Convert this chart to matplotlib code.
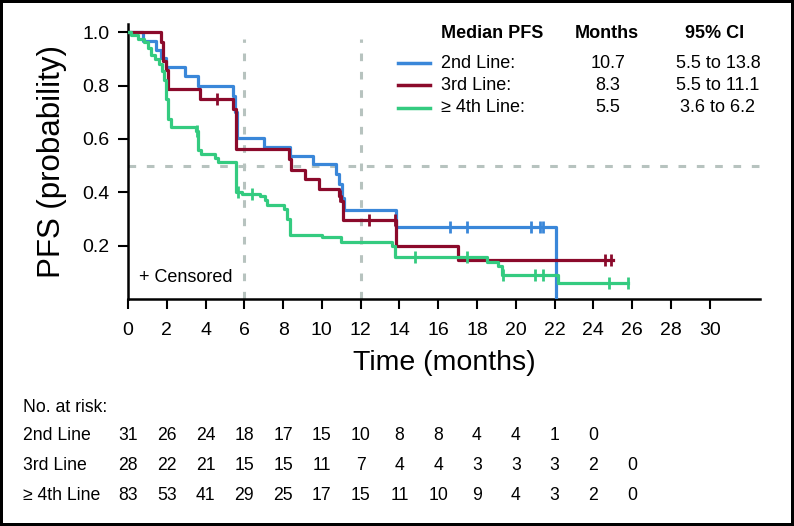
import numpy as np
import matplotlib
matplotlib.use("Agg")
import matplotlib.pyplot as plt
from matplotlib.lines import Line2D
import matplotlib.transforms as mtransforms

plt.rcParams['font.family'] = ['Liberation Sans', 'DejaVu Sans']

# curvas de Kaplan-Meier
t_2nd = [0, 0.75, 1.43, 1.7, 1.95, 2.95, 3.6, 5.4, 5.5, 5.6, 7.0, 8.35, 9.55, 10.75, 10.9, 11.05, 11.15, 13.8, 22.1]
s_2nd = [1.0, 0.968, 0.935, 0.903, 0.871, 0.835, 0.80, 0.762, 0.70, 0.605, 0.571, 0.537, 0.506, 0.469, 0.431, 0.38, 0.335, 0.269, 0.0]
fin_2nd = 22.1
cens_2nd = [16.6, 17.5, 20.8, 21.25, 21.4]

t_3rd = [0, 1.7, 1.8, 1.95, 2.05, 3.7, 5.4, 5.55, 8.3, 8.4, 9.15, 9.85, 10.9, 11.0, 11.1, 13.8, 17.0]
s_3rd = [1.0, 0.964, 0.893, 0.857, 0.786, 0.75, 0.714, 0.5625, 0.525, 0.485, 0.45, 0.4125, 0.387, 0.369, 0.297, 0.197, 0.147]
fin_3rd = 25.0
cens_3rd = [4.6, 10.95, 12.45, 13.75, 24.6, 24.9]

t_4th = [0, 0.15, 0.5, 0.85, 1.05, 1.2, 1.4, 1.6, 1.75, 1.85, 1.95, 2.05, 2.2, 3.5, 3.6, 3.75, 4.5, 4.65,
         5.55, 5.9, 6.8, 7.05, 7.15, 8.05, 8.2, 8.35, 10.0, 11.0, 13.6, 13.75, 18.5, 19.1, 19.3, 22.2]
s_4th = [1.0, 0.988, 0.976, 0.964, 0.94, 0.915, 0.90, 0.88, 0.855, 0.82, 0.75, 0.675, 0.645, 0.63, 0.56, 0.545, 0.527, 0.515,
         0.40, 0.393, 0.385, 0.37, 0.352, 0.338, 0.30, 0.24, 0.231, 0.2125, 0.20, 0.156, 0.14, 0.125, 0.09, 0.06]
fin_4th = 25.8
cens_4th = [3.55, 5.65, 6.4, 14.8, 17.5, 19.35, 21.0, 21.4, 24.8, 25.8]

# tabla de pacientes en riesgo
riesgo_meses = [0, 2, 4, 6, 8, 10, 12, 14, 16, 18, 20, 22, 24, 26]
riesgo_2nd = [31, 26, 24, 18, 17, 15, 10, 8, 8, 4, 4, 1, 0]
riesgo_3rd = [28, 22, 21, 15, 15, 11, 7, 4, 4, 3, 3, 3, 2, 0]
riesgo_4th = [83, 53, 41, 29, 25, 17, 15, 11, 10, 9, 4, 3, 2, 0]

grupos = ['2nd Line:', '3rd Line:', '\u2265 4th Line:']
grupos_tabla = ['2nd Line', '3rd Line', '\u2265 4th Line']
medianas = ['10.7', '8.3', '5.5']
ic95 = ['5.5 to 13.8', '5.5 to 11.1', '3.6 to 6.2']

azul = '#3a87d9'
rojo = '#8b0a2b'
verde = '#34cb80'
gris = '#b7c3bf'
colores = [azul, rojo, verde]

W, H = 794, 526
fig = plt.figure(figsize=(W / 100, H / 100), dpi=100, linewidth=3, edgecolor='black')


def fx(px):
    return px / W


def fy(py):
    return 1 - py / H


ax = fig.add_axes([fx(128), fy(299), fx(760) - fx(128), fy(24) - fy(299)])
ax.set_xlim(0, 32.6)
ax.set_ylim(0, 1.031)

# lineas de referencia
ax.axhline(0.5, color=gris, lw=2.2, ls=(0, (2.5, 3.5)), zorder=1)
for xv in [6, 12]:
    ax.plot([xv, xv], [0, 0.975], color=gris, lw=2.2, ls=(0, (2.5, 3.5)), zorder=1)

curvas = [(t_2nd, s_2nd, fin_2nd, cens_2nd), (t_3rd, s_3rd, fin_3rd, cens_3rd), (t_4th, s_4th, fin_4th, cens_4th)]
for (t, s, fin, cens), c in zip(curvas, colores):
    tt = np.array(t + [fin])
    ss = np.array(s + [s[-1]])
    ax.step(tt, ss, where='post', color=c, lw=2.3, zorder=3)
    # marcas de censura sobre la curva
    idx = np.searchsorted(tt, cens, side='right') - 1
    ax.plot(cens, ss[idx], ls='none', marker='|', ms=8, mew=2, color=c, zorder=4)

for sp in ['top', 'right']:
    ax.spines[sp].set_visible(False)
for sp in ['left', 'bottom']:
    ax.spines[sp].set_linewidth(1.8)

ax.set_xticks(range(0, 31, 2))
ax.set_yticks([0.2, 0.4, 0.6, 0.8, 1.0])
ax.set_yticklabels(['0.2', '0.4', '0.6', '0.8', '1.0'])
ax.tick_params(axis='both', direction='out', length=7.5, width=1.5, labelsize=14)
ax.tick_params(axis='x', pad=9)
ax.tick_params(axis='y', pad=6)

ax.set_ylabel('PFS (probability)', fontsize=22.5)
ax.yaxis.set_label_coords(-0.097, 0.5)
ax.set_xlabel('Time (months)', fontsize=20.5)
ax.xaxis.set_label_coords(0.5, (299 - 350) / 275)

ax.text((139 - 128) / 632, (299 - 278) / 275, '+ Censored', fontsize=13, va='center', ha='left',
        transform=ax.transAxes)

# leyenda con mediana e intervalos
fig.text(fx(441), fy(33), 'Median PFS', fontsize=13, fontweight='bold', va='center', ha='left')
fig.text(fx(607), fy(33), 'Months', fontsize=13, fontweight='bold', va='center', ha='center')
fig.text(fx(715), fy(33), '95% CI', fontsize=13, fontweight='bold', va='center', ha='center')
filas_y = [63, 85, 108]
for g, m, ci, c, py in zip(grupos, medianas, ic95, colores, filas_y):
    fig.add_artist(Line2D([fx(398), fx(430)], [fy(py), fy(py)], color=c, lw=2.5))
    fig.text(fx(441), fy(py), g, fontsize=13, va='center', ha='left')
    fig.text(fx(608), fy(py), m, fontsize=13, va='center', ha='center')
    fig.text(fx(718), fy(py), ci, fontsize=13, va='center', ha='center')

# tabla de riesgo
trans = mtransforms.blended_transform_factory(ax.transData, fig.transFigure)
fig.text(fx(23), fy(407), 'No. at risk:', fontsize=12.7, va='center', ha='left')
tabla_y = [436, 465, 495]
for nombre, valores, py in zip(grupos_tabla, [riesgo_2nd, riesgo_3rd, riesgo_4th], tabla_y):
    fig.text(fx(23), fy(py), nombre, fontsize=12.7, va='center', ha='left')
    for mes, v in zip(riesgo_meses, valores):
        ax.text(mes, fy(py), str(v), fontsize=12.7, va='center', ha='center', transform=trans, clip_on=False)

fig.savefig('out.png', dpi=100)
